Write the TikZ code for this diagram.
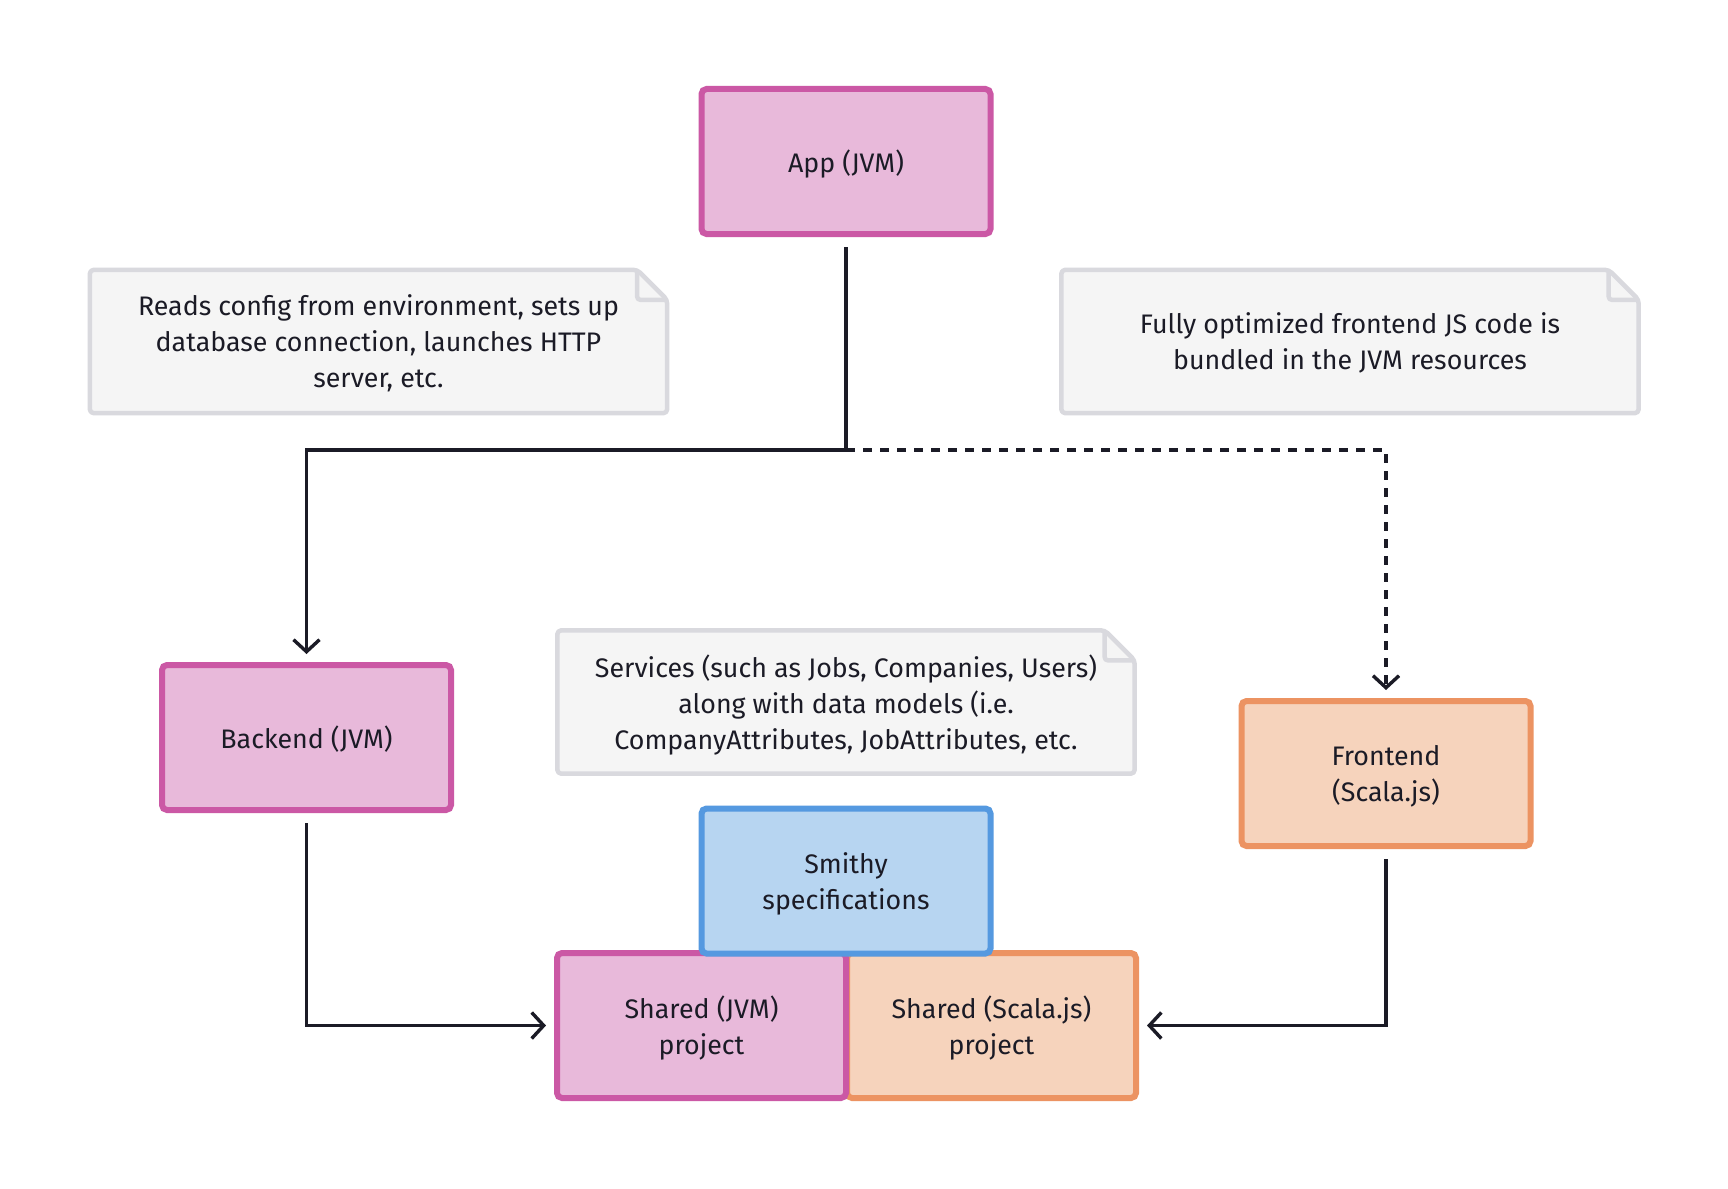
\documentclass[tikz,border=0pt]{standalone}
\usepackage{fontspec}
\setmainfont{Fira Sans}
\usetikzlibrary{arrows.meta,calc,backgrounds}
\definecolor{txt}{HTML}{1B1B26}
\definecolor{pinkfill}{HTML}{E8B9DA}
\definecolor{pinkline}{HTML}{CB58A5}
\definecolor{orfill}{HTML}{F6D3BC}
\definecolor{orline}{HTML}{EC9362}
\definecolor{blfill}{HTML}{B7D5F1}
\definecolor{blline}{HTML}{5599E0}
\definecolor{notefill}{HTML}{F5F5F5}
\definecolor{noteline}{HTML}{D9D9DE}
\begin{document}
\begin{tikzpicture}[x=1pt,y=-1pt, font=\fontsize{26.8}{36}\selectfont, text=txt,
 box/.style={rectangle, rounded corners=5pt, line width=6pt, minimum width=289pt, minimum height=145pt, align=center, inner sep=0pt, text depth=-3pt},
 jvm/.style={box, draw=pinkline, fill=pinkfill},
 sjs/.style={box, draw=orline, fill=orfill},
 smithy/.style={box, draw=blline, fill=blfill},
 notetext/.style={rectangle, minimum width=577pt, minimum height=143pt, align=center, inner sep=0pt, text depth=-3pt},
 notebody/.style={draw=noteline, fill=notefill, line width=4.5pt, rounded corners=4pt, line join=round},
 conn/.style={draw=txt, line width=3.4pt, -{Straight Barb[length=12pt,width=26pt]}, shorten <=10pt, shorten >=8pt},
]
\useasboundingbox (0,0) rectangle (1728,1188);

% notes
\node[notetext] (n1) at (378.5,341.5) {Reads config from environment, sets up\\database connection, launches HTTP\\server, etc.};
\node[notetext] (n2) at (1350,341.5) {Fully optimized frontend JS code is\\bundled in the JVM resources};
\node[notetext] (n3) at (846,702) {Services (such as Jobs, Companies, Users)\\along with data models (i.e.\\CompanyAttributes, JobAttributes, etc.};
\begin{scope}[on background layer]
\fill[white] (0,0) rectangle (1728,1188);
\foreach \n in {n1,n2,n3}{
  \draw[notebody] (\n.north west) -- ($(\n.north east)+(-30,0)$) -- ($(\n.north east)+(0,30)$) -- (\n.south east) -- (\n.south west) -- cycle;
  \draw[draw=noteline, line width=4.5pt, rounded corners=3pt, line join=round] ($(\n.north east)+(-30,0)$) -- ($(\n.north east)+(-30,30)$) -- ($(\n.north east)+(0,30)$);
}
\end{scope}

% boxes
\node[jvm] (app) at (846,161.5) {App (JVM)};
\node[jvm] (backend) at (306.5,737.5) {Backend (JVM)};
\node[sjs] (frontend) at (1386,773.5) {Frontend\\(Scala.js)};
\node[sjs] (sharedsjs) at (991.5,1025.5) {Shared (Scala.js)\\project};
\node[jvm] (sharedjvm) at (701.5,1025.5) {Shared (JVM)\\project};
\node[smithy] (smithy) at (846,881) {Smithy\\specifications};

% connectors
\coordinate (j) at (846,450);
\draw[conn] (app.south) -- (j) -| (backend.north);
\draw[conn, shorten <=0pt, dash pattern=on 9pt off 8pt] (j) -| (frontend.north);
\draw[conn] (backend.south) |- (sharedjvm.west);
\draw[conn] (frontend.south) |- (sharedsjs.east);
\end{tikzpicture}
\end{document}
